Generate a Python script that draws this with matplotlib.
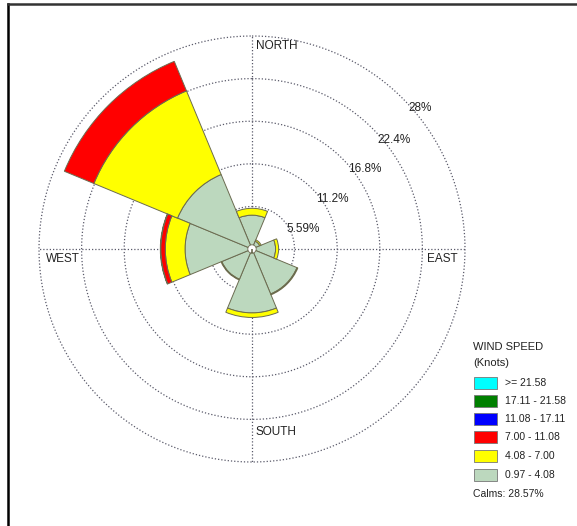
import numpy as np
import matplotlib
matplotlib.use("Agg")
import matplotlib.pyplot as plt
from matplotlib.patches import Rectangle
from matplotlib.lines import Line2D

plt.rcParams['font.family'] = ['Liberation Sans', 'DejaVu Sans']

# ---- data ----
directions = ["N", "NE", "E", "SE", "S", "SW", "W", "NW"]
angles_deg = [0, 45, 90, 135, 180, 225, 270, 315]
# frequency (%) per speed class, per direction
spd_097_408 = [4.45, 1.10, 3.10, 6.40, 8.40, 4.30, 8.80, 10.60]
spd_408_700 = [0.90, 0.20, 0.40, 0.12, 0.60, 0.10, 2.60, 11.90]
spd_700_1108 = [0.00, 0.00, 0.00, 0.00, 0.00, 0.00, 0.60, 4.20]
spd_1108_1711 = [0, 0, 0, 0, 0, 0, 0.05, 0]
spd_1711_2158 = [0, 0, 0, 0, 0, 0, 0, 0]
spd_ge_2158 = [0, 0, 0, 0, 0, 0, 0, 0]
series = [spd_097_408, spd_408_700, spd_700_1108, spd_1108_1711, spd_1711_2158, spd_ge_2158]
series_colors = ["#bcd8be", "#ffff00", "#ff0000", "#0000ff", "#008000", "#00ffff"]

legend_labels = [">= 21.58", "17.11 - 21.58", "11.08 - 17.11", "7.00 - 11.08", "4.08 - 7.00", "0.97 - 4.08"]
legend_colors = ["#00ffff", "#008000", "#0000ff", "#ff0000", "#ffff00", "#bcd8be"]
ring_values = [5.59, 11.2, 16.8, 22.4, 28]
ring_labels = ["5.59%", "11.2%", "16.8%", "22.4%", "28%"]
calms_text = "Calms: 28.57%"
rmax = 28.0

W, H = 577, 526
fig = plt.figure(figsize=(W / 100, H / 100), dpi=100)
fig.patch.set_facecolor("white")

cx, cy, R = 252, 249, 213
ax = fig.add_axes([(cx - R) / W, (H - cy - R) / H, 2 * R / W, 2 * R / H], projection="polar")
ax.set_theta_zero_location("N")
ax.set_theta_direction(-1)
ax.set_ylim(0, rmax)
ax.grid(False)
ax.set_xticks([])
ax.set_yticks([])
ax.spines["polar"].set_visible(False)
ax.set_facecolor("none")

# grid rings and axes lines
th = np.linspace(0, 2 * np.pi, 400)
for rv in ring_values:
    ax.plot(th, np.full_like(th, rv), color="#5a5a6a", lw=0.9, ls=(0, (1, 1.6)), zorder=1, clip_on=False)
for a in [0, 90, 180, 270]:
    ax.plot([np.deg2rad(a)] * 2, [0, rmax], color="#5a5a6a", lw=0.9, ls=(0, (1, 1.6)), zorder=1, clip_on=False)

theta = np.deg2rad(angles_deg)
width = np.deg2rad(45)
bottom = np.zeros(len(directions))
for vals, col in zip(series, series_colors):
    vals = np.array(vals, dtype=float)
    mask = vals > 0
    ax.bar(theta[mask], vals[mask], width=width, bottom=bottom[mask], color=col,
           edgecolor="#6b6b50", linewidth=0.7, zorder=3, clip_on=False)
    bottom = bottom + vals

# calm circle
ax.bar([0], [0.55], width=2 * np.pi, bottom=0, color="white", edgecolor="#6b6b50", linewidth=0.6, zorder=4)

# ring labels
ring_pos = [(303, 229), (332, 199), (365, 169), (394, 140), (420, 108)]
for (x, y), t in zip(ring_pos, ring_labels):
    fig.text(x / W, 1 - y / H, t, ha="center", va="center", fontsize=8.5, color="#222222")

# direction labels
fs = 8.5
fig.text(256 / W, 1 - 46 / H, "NORTH", ha="left", va="center", fontsize=fs, color="#222222")
fig.text(46 / W, 1 - 259 / H, "WEST", ha="left", va="center", fontsize=fs, color="#222222")
fig.text(427 / W, 1 - 259 / H, "EAST", ha="left", va="center", fontsize=fs, color="#222222")
fig.text(256 / W, 1 - 432 / H, "SOUTH", ha="left", va="center", fontsize=fs, color="#222222")

# legend
fig.text(473 / W, 1 - 347 / H, "WIND SPEED", ha="left", va="center", fontsize=8, color="#222222")
fig.text(473 / W, 1 - 363 / H, "(Knots)", ha="left", va="center", fontsize=8, color="#222222")
rows_y = [383, 401, 419, 437, 456, 475]
for yy, lab, col in zip(rows_y, legend_labels, legend_colors):
    fig.patches.append(Rectangle((474 / W, 1 - (yy + 6) / H), 23 / W, 12 / H,
                                 transform=fig.transFigure, facecolor=col,
                                 edgecolor="#777777", linewidth=0.6))
    fig.text(505 / W, 1 - yy / H, lab, ha="left", va="center", fontsize=7.5, color="#222222")
fig.text(473 / W, 1 - 494 / H, calms_text, ha="left", va="center", fontsize=7.5, color="#222222")

# outer frame (left and top edges)
fig.lines.append(Line2D([8 / W, 8 / W], [0, 1 - 4 / H], transform=fig.transFigure, color="black", lw=1.8))
fig.lines.append(Line2D([8 / W, 1], [1 - 4 / H, 1 - 4 / H], transform=fig.transFigure, color="#333333", lw=1.8))

fig.savefig("out.png", dpi=100, facecolor="white")
